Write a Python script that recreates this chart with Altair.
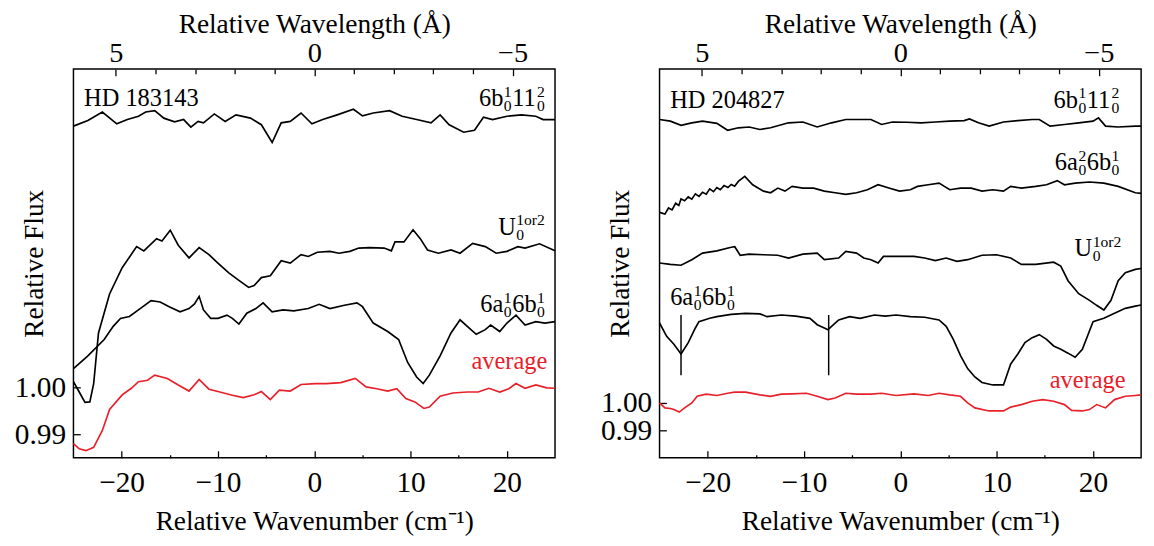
import altair as alt
import pandas as pd

FONT = "Liberation Serif, Times New Roman, serif"
RED = "#e8202a"
W, H = 493, 398
K = 4.12  # cm^-1 per Angstrom at this band (relative wavenumber = -K * relative wavelength)

WN_MAJOR = [-20, -10, 0, 10, 20]
WN_MINOR = [-15, -5, 5, 15]
WL_MAJOR = [5, 0, -5]
WL_MINOR = [4, 3, 2, 1, -1, -2, -3, -4]
FLUX_TICKS = [0.99, 1.00]

LEFT_YDOM = [0.985, 1.0679]
RIGHT_YDOM = [0.9802, 1.1208]

# ---------------- HD 183143 ----------------
L6B_X = [-25, -23.5, -22.0, -20.5, -19.4, -18.25, -17.5, -16.56, -15.62, -14.5, -13.56, -12.81, -12.06, -11.5,
         -10.37, -9.25, -8.12, -6.62, -5.49, -4.37, -3.43, -2.49, -1.37, -0.24, 0.88, 2.38, 4.07, 5.01, 6.13,
         7.82, 9.13, 10.63, 12.13, 13.07, 14.01, 15.51, 16.64, 17.57, 18.51, 20.01, 21.51, 23.01, 23.76, 25]
L6B_Y = [1.0557, 1.0569, 1.0587, 1.0562, 1.0571, 1.0578, 1.0587, 1.0590, 1.0574, 1.0566, 1.0571, 1.0555, 1.0567,
         1.0564, 1.0583, 1.0567, 1.0581, 1.0574, 1.0560, 1.0522, 1.0564, 1.0567, 1.0585, 1.0562, 1.0571, 1.0581,
         1.0593, 1.0579, 1.0585, 1.0590, 1.0578, 1.0571, 1.0564, 1.0581, 1.0560, 1.0544, 1.0548, 1.0576, 1.0571,
         1.0578, 1.0581, 1.0578, 1.0571, 1.0571]

LU_X = [-25, -24.4, -23.8, -23.3, -22.9, -22.4, -21.25, -19.94, -18.44, -17.69, -16.37, -15.81, -14.95, -14.12,
        -13.0, -11.95, -10.93, -10.0, -8.87, -7.75, -6.81, -6.24, -5.49, -4.56, -3.43, -2.49, -1.37, -0.62, 0.32,
        1.63, 2.57, 3.70, 4.63, 5.76, 7.26, 8.01, 8.38, 9.32, 10.26, 11.01, 11.76, 12.89, 14.2, 15.14, 16.45,
        17.76, 18.89, 20.01, 21.14, 21.89, 23.39, 25]
LU_Y = [1.0012, 0.9990, 0.9968, 0.9969, 1.0008, 1.0116, 1.0199, 1.0255, 1.0300, 1.0291, 1.0317, 1.0312, 1.0335,
        1.0303, 1.0276, 1.0298, 1.0283, 1.0265, 1.0244, 1.0227, 1.0213, 1.0217, 1.0234, 1.0238, 1.0270, 1.0265,
        1.0283, 1.0279, 1.0288, 1.0290, 1.0286, 1.0290, 1.0297, 1.0298, 1.0297, 1.0291, 1.0310, 1.0310, 1.0336,
        1.0317, 1.0293, 1.0286, 1.0293, 1.0286, 1.0307, 1.0300, 1.0286, 1.0290, 1.0300, 1.0297, 1.0306, 1.0291]

L6A_X = [-25, -23.5, -21.81, -20.87, -20.12, -19.19, -18.25, -16.94, -16.0, -15.06, -13.93, -13.0, -12.43, -11.95,
         -11.5, -10.75, -10.0, -9.06, -8.5, -7.82, -7.0, -6.06, -5.31, -4.37, -3.24, -2.12, -0.62, 0.51, 1.63,
         3.13, 4.44, 5.01, 6.13, 7.63, 8.76, 9.7, 10.63, 11.31, 11.95, 13.07, 14.2, 15.14, 15.89, 16.82, 17.76,
         18.32, 19.26, 20.01, 20.95, 21.89, 23.01, 23.95, 25]
L6A_Y = [1.0040, 1.0067, 1.0102, 1.0130, 1.0147, 1.0151, 1.0165, 1.0185, 1.0182, 1.0172, 1.0161, 1.0168, 1.0178,
         1.0194, 1.0165, 1.0147, 1.0147, 1.0154, 1.0147, 1.0135, 1.0158, 1.0168, 1.0180, 1.0161, 1.0165, 1.0163,
         1.0168, 1.0177, 1.0168, 1.0175, 1.0180, 1.0172, 1.0137, 1.0119, 1.0102, 1.0053, 1.0022, 1.0008, 1.0026,
         1.0067, 1.0116, 1.0144, 1.0130, 1.0113, 1.0123, 1.0133, 1.0119, 1.0137, 1.0154, 1.0133, 1.0140, 1.0137,
         1.0140]

LAVG_X = [-25, -24.4, -23.7, -22.9, -22.0, -21.25, -19.94, -18.99, -18.25, -17.31, -16.56, -15.25, -14.12, -13.0,
          -11.95, -10.93, -10.0, -8.5, -7.37, -6.24, -5.49, -4.56, -3.62, -2.49, -1.37, 0.13, 1.26, 2.76, 4.26,
          5.38, 6.5, 7.63, 8.57, 9.51, 10.45, 11.39, 11.95, 13.07, 14.39, 15.89, 17.01, 18.14, 19.26, 20.2, 20.95,
          21.89, 23.01, 24.14, 25]
LAVG_Y = [0.9880, 0.9869, 0.9865, 0.9872, 0.9908, 0.9953, 0.9984, 0.9998, 1.0012, 1.0015, 1.0026, 1.0019, 1.0005,
          0.9992, 1.0017, 0.9996, 0.9991, 0.9983, 0.9978, 0.9984, 0.9991, 0.9974, 0.9994, 0.9992, 1.0006, 1.0008,
          1.0008, 1.0010, 1.0019, 1.0001, 0.9997, 0.9992, 0.9997, 0.9976, 0.9969, 0.9955, 0.9958, 0.9981, 0.9988,
          0.9990, 0.9990, 0.9998, 0.9990, 0.9997, 1.0008, 0.9998, 1.0005, 0.9999, 0.9998]

# ---------------- HD 204827 ----------------
R6B_X = [-25, -23.88, -22.77, -21.65, -20.54, -19.05, -17.93, -16.82, -15.7, -14.58, -13.47, -11.61, -10.12, -8.63,
         -7.14, -5.66, -4.17, -3.05, -1.94, -0.82, 0.67, 2.16, 3.64, 5.13, 6.62, 7.18, 8.11, 9.22, 10.71, 12.2,
         13.69, 14.43, 15.55, 17.04, 18.52, 20.01, 20.57, 21.31, 22.62, 24.4, 25]
R6B_Y = [1.1025, 1.1019, 1.1004, 1.1013, 1.1019, 1.1011, 1.0986, 1.0995, 1.0998, 1.0989, 1.0995, 1.1013, 1.1016,
         1.0998, 1.1013, 1.1025, 1.1025, 1.1025, 1.1007, 1.1016, 1.1015, 1.1013, 1.1016, 1.1019, 1.1021, 1.1027,
         1.1013, 1.1001, 1.1016, 1.1021, 1.1025, 1.1025, 1.1001, 1.1007, 1.1013, 1.1019, 1.1031, 1.1001, 1.0998,
         1.1001, 1.1001]

R6A2_X = [-25, -24.44, -24.07, -23.7, -23.33, -23.0, -22.77, -22.4, -22.02, -21.65, -21.28, -20.9, -20.54, -20.15,
          -19.79, -19.4, -19.05, -18.7, -18.3, -17.9, -17.56, -17.2, -16.82, -16.15, -15.33, -14.21, -13.47,
          -12.72, -11.98, -11.24, -10.12, -9.0, -7.89, -6.77, -5.66, -4.54, -3.42, -2.31, -1.19, -0.08, 1.04,
          1.78, 2.9, 4.02, 5.13, 6.25, 7.36, 8.48, 9.6, 10.71, 11.46, 12.57, 14.06, 15.18, 16.29, 17.04, 18.15,
          19.64, 21.13, 22.62, 24.4, 25]
R6A2_Y = [1.0689, 1.0683, 1.0705, 1.0698, 1.0722, 1.0714, 1.0738, 1.0731, 1.0745, 1.0737, 1.0756, 1.0747, 1.0762,
          1.0755, 1.0774, 1.0764, 1.0779, 1.0771, 1.0786, 1.0779, 1.0790, 1.0784, 1.0801, 1.0819, 1.0789, 1.0766,
          1.0760, 1.0777, 1.0766, 1.0783, 1.0777, 1.0777, 1.0766, 1.0760, 1.0754, 1.0760, 1.0771, 1.0789, 1.0777,
          1.0766, 1.0771, 1.0783, 1.0789, 1.0795, 1.0771, 1.0777, 1.0777, 1.0766, 1.0771, 1.0766, 1.0783, 1.0777,
          1.0783, 1.0789, 1.0804, 1.0789, 1.0795, 1.0799, 1.0795, 1.0783, 1.0760, 1.0758]

RU_X = [-25, -23.88, -22.77, -21.65, -20.54, -19.05, -17.56, -17.19, -16.63, -15.7, -14.21, -12.72, -11.61, -10.12,
        -8.63, -7.89, -6.4, -5.66, -4.54, -3.8, -3.05, -2.31, -1.75, -0.45, 1.41, 2.53, 3.64, 4.76, 5.88, 6.99,
        8.48, 9.97, 11.46, 12.57, 14.06, 15.92, 16.66, 17.41, 18.52, 19.64, 20.38, 21.13, 21.87, 22.62, 23.36,
        24.4, 25]
RU_Y = [1.0506, 1.0501, 1.0498, 1.0518, 1.0542, 1.0550, 1.0563, 1.0565, 1.0534, 1.0538, 1.0536, 1.0534, 1.0524,
        1.0538, 1.0542, 1.0518, 1.0524, 1.0548, 1.0542, 1.0524, 1.0518, 1.0506, 1.0530, 1.0530, 1.0530, 1.0524,
        1.0515, 1.0524, 1.0512, 1.0518, 1.0534, 1.0536, 1.0524, 1.0501, 1.0501, 1.0509, 1.0495, 1.0442, 1.0395,
        1.0371, 1.0353, 1.0336, 1.0371, 1.0442, 1.0471, 1.0483, 1.0486]

R6A1_X = [-25, -24.26, -23.51, -22.77, -22.02, -21.28, -20.91, -19.79, -19.05, -17.56, -16.07, -14.58, -13.84,
          -12.35, -10.86, -9.38, -8.63, -7.89, -7.52, -7.14, -6.4, -5.28, -4.17, -2.68, -1.56, -0.45, 1.04, 2.53,
          4.02, 4.76, 5.5, 6.25, 6.99, 7.74, 8.48, 9.6, 10.71, 11.46, 12.2, 12.94, 13.69, 14.43, 15.18, 15.92,
          16.66, 17.41, 18.15, 18.9, 20.01, 21.13, 22.24, 23.36, 24.4, 25]
R6A1_Y = [1.0289, 1.0241, 1.0212, 1.0177, 1.0218, 1.0271, 1.0294, 1.0306, 1.0312, 1.0320, 1.0324, 1.0322, 1.0312,
          1.0318, 1.0314, 1.0306, 1.0283, 1.0271, 1.0265, 1.0277, 1.0300, 1.0312, 1.0306, 1.0318, 1.0314, 1.0318,
          1.0312, 1.0310, 1.0300, 1.0277, 1.0230, 1.0171, 1.0124, 1.0094, 1.0074, 1.0065, 1.0065, 1.0141, 1.0177,
          1.0218, 1.0236, 1.0247, 1.0230, 1.0206, 1.0194, 1.0180, 1.0165, 1.0194, 1.0294, 1.0306, 1.0324, 1.0342,
          1.0350, 1.0354]

RAVG_X = [-25, -24.44, -23.88, -23.51, -22.95, -22.4, -21.65, -21.09, -20.16, -19.05, -17.93, -17.19, -16.07,
          -14.58, -13.47, -12.35, -11.24, -9.75, -8.63, -7.52, -6.77, -5.66, -4.54, -3.05, -1.94, -0.45, 1.41, 2.9,
          4.02, 5.13, 6.25, 6.99, 7.74, 9.22, 10.71, 11.46, 12.57, 13.69, 14.8, 15.92, 17.04, 17.78, 18.9, 19.64,
          20.38, 21.31, 22.24, 23.36, 24.4, 25]
RAVG_Y = [1.0000, 0.9982, 0.9980, 0.9976, 0.9967, 0.9982, 1.0000, 1.0024, 1.0032, 1.0027, 1.0035, 1.0039, 1.0039,
          1.0029, 1.0024, 1.0032, 1.0033, 1.0035, 1.0024, 1.0012, 1.0018, 1.0035, 1.0032, 1.0032, 1.0035, 1.0027,
          1.0033, 1.0027, 1.0035, 1.0029, 1.0024, 1.0000, 0.9982, 0.9971, 0.9971, 0.9985, 0.9994, 1.0006, 1.0012,
          1.0006, 0.9994, 0.9973, 0.9971, 0.9976, 0.9994, 0.9982, 1.0012, 1.0024, 1.0027, 1.0029]

R_MARKER_X = [-22.77, -7.44]
R_MARKER_LOW, R_MARKER_HIGH = 1.0100, 1.0318

# ---------------- text helpers ----------------
EM = {"a": .444, "b": .5, "U": .722, "o": .5, "r": .333, "H": .722, "D": .722, " ": .25,
      "v": .5, "e": .444, "g": .5}
MAIN, SCRIPT = 25, 16
SUP_DY, SUB_DY = -10, 5


def twidth(s, size):
    return sum(EM.get(c, 0.5) for c in s) * size


def label_layers(x, y, tokens, align, xs, ys, color="black"):
    pieces = []
    pos = 0.0
    for t in tokens:
        if isinstance(t, str):
            pieces.append((t, MAIN, pos, 0))
            pos += twidth(t, MAIN)
        else:
            sup, sub = t
            pos += 0.5
            pieces.append((sup, SCRIPT, pos, SUP_DY))
            pieces.append((sub, SCRIPT, pos, SUB_DY))
            pos += max(twidth(sup, SCRIPT), twidth(sub, SCRIPT)) + 0.5
    shift = -pos if align == "right" else 0.0
    df = pd.DataFrame({"x": [x], "flux": [y]})
    out = []
    for text, size, dx, dy in pieces:
        out.append(
            alt.Chart(df).mark_text(text=text, align="left", baseline="alphabetic", fontSize=size,
                                    dx=dx + shift, dy=dy, font=FONT, color=color)
            .encode(x=alt.X("x:Q", scale=xs, axis=None), y=alt.Y("flux:Q", scale=ys, axis=None))
        )
    return out


def tick_layer(values, size, orient, xs, offset):
    return alt.Chart(pd.DataFrame({"x": values})).mark_point(opacity=0).encode(
        x=alt.X("x:Q", scale=xs, axis=alt.Axis(orient=orient, offset=offset, values=values, labels=False,
                                               ticks=True, tickSize=size, tickWidth=1.3, tickColor="black",
                                               title=None, domain=False, grid=False)))


def panel(series, ydom, labels, markers=None):
    xs = alt.Scale(domain=[-25, 25], nice=False, zero=False)
    ys = alt.Scale(domain=ydom, nice=False, zero=False)
    rows = []
    for name, xv, yv, kind in series:
        for a, b in zip(xv, yv):
            rows.append({"x": a, "flux": b, "series": name, "kind": kind})
    df = pd.DataFrame(rows)

    lines = alt.Chart(df).mark_line(strokeWidth=1.7).encode(
        x=alt.X("x:Q", scale=xs, axis=alt.Axis(
            orient="bottom", values=WN_MAJOR, ticks=False, tickSize=0, labelFontSize=30, labelPadding=11,
            title="Relative Wavenumber (cm⁻¹)", titleFontSize=28, titleY=74, titleBaseline="alphabetic")),
        y=alt.Y("flux:Q", scale=ys, axis=alt.Axis(
            orient="left", values=FLUX_TICKS, format=".2f", ticks=False, tickSize=0, labelFontSize=30,
            labelPadding=8, title="Relative Flux", titleFontSize=28, titleX=-40, titleY=H / 2,
            titleBaseline="middle", titleAlign="center", titleAngle=270)),
        color=alt.Color("kind:N", scale=alt.Scale(domain=["spectrum", "average"], range=["black", RED]),
                        legend=None),
        detail="series:N",
        order=alt.Order("x:Q"),
    )

    wl_major = [-K * w for w in WL_MAJOR]
    wl_minor = [-K * w for w in WL_MINOR]
    wl_expr = f"abs(datum.value) < 0.001 ? '0' : format(-datum.value / {K}, '.0f')"
    wl_axis = alt.Chart(pd.DataFrame({"x": wl_major})).mark_point(opacity=0).encode(
        x=alt.X("x:Q", scale=xs, axis=alt.Axis(
            orient="top", values=wl_major, labelExpr=wl_expr, ticks=False, tickSize=0, labelFontSize=29,
            labelPadding=2, title="Relative Wavelength (Å)", titleFontSize=28, titleY=-37,
            titleBaseline="alphabetic")))

    ytick = alt.Chart(pd.DataFrame({"flux": FLUX_TICKS})).mark_point(opacity=0).encode(
        y=alt.Y("flux:Q", scale=ys, axis=alt.Axis(orient="right", offset=-W, values=FLUX_TICKS, labels=False,
                                                   ticks=True, tickSize=7, tickWidth=1.3, tickColor="black",
                                                   title=None, domain=False, grid=False)))

    layers = [lines, wl_axis, ytick,
              tick_layer(WN_MAJOR, 7, "top", xs, -H),
              tick_layer(WN_MINOR, 3, "top", xs, -H),
              tick_layer(wl_major, 7, "bottom", xs, -H),
              tick_layer(wl_minor, 5, "bottom", xs, -H)]
    if markers is not None:
        mk = pd.DataFrame({"x": markers[0], "flux": [markers[1]] * len(markers[0]),
                           "flux2": [markers[2]] * len(markers[0])})
        layers.append(alt.Chart(mk).mark_rule(strokeWidth=1.5, color="black").encode(
            x=alt.X("x:Q", scale=xs, axis=None), y=alt.Y("flux:Q", scale=ys, axis=None), y2="flux2:Q"))
    for lab in labels:
        layers += label_layers(*lab[:4], xs, ys, **(lab[4] if len(lab) > 4 else {}))
    return alt.layer(*layers).resolve_axis(x="independent", y="independent").properties(width=W, height=H)


left = panel(
    [("L6b", L6B_X, L6B_Y, "spectrum"), ("LU", LU_X, LU_Y, "spectrum"), ("L6a", L6A_X, L6A_Y, "spectrum"),
     ("Lavg", LAVG_X, LAVG_Y, "average")],
    LEFT_YDOM,
    [(-23.9, 1.0599, ["HD 183143"], "left"),
     (24.0, 1.0599, ["6b", ("1", "0"), "11", ("2", "0")], "right"),
     (24.0, 1.0325, ["U", ("1or2", "0")], "right"),
     (24.0, 1.0160, ["6a", ("1", "0"), "6b", ("1", "0")], "right"),
     (24.2, 1.0040, ["average"], "right", {"color": RED})],
)

right = panel(
    [("R6b", R6B_X, R6B_Y, "spectrum"), ("R6a2", R6A2_X, R6A2_Y, "spectrum"), ("RU", RU_X, RU_Y, "spectrum"),
     ("R6a1", R6A1_X, R6A1_Y, "spectrum"), ("Ravg", RAVG_X, RAVG_Y, "average")],
    RIGHT_YDOM,
    [(-23.9, 1.1067, ["HD 204827"], "left"),
     (22.8, 1.1067, ["6b", ("1", "0"), "11", ("2", "0")], "right"),
     (22.8, 1.0841, ["6a", ("2", "0"), "6b", ("1", "0")], "right"),
     (23.0, 1.0530, ["U", ("1or2", "0")], "right"),
     (-23.9, 1.0353, ["6a", ("1", "0"), "6b", ("1", "0")], "left"),
     (23.4, 1.0053, ["average"], "right", {"color": RED})],
    markers=(R_MARKER_X, R_MARKER_LOW, R_MARKER_HIGH),
)

chart = (
    alt.hconcat(left, right, spacing=40)
    .properties(padding={"left": 5, "top": -4, "right": 0, "bottom": 0})
    .configure_view(stroke="black", strokeWidth=1.5)
    .configure_axis(labelFont=FONT, titleFont=FONT, labelColor="black", titleColor="black",
                    titleFontWeight="normal", grid=False, domain=False)
)

chart.save("out.html", embed_options={"renderer": "svg", "actions": False})
